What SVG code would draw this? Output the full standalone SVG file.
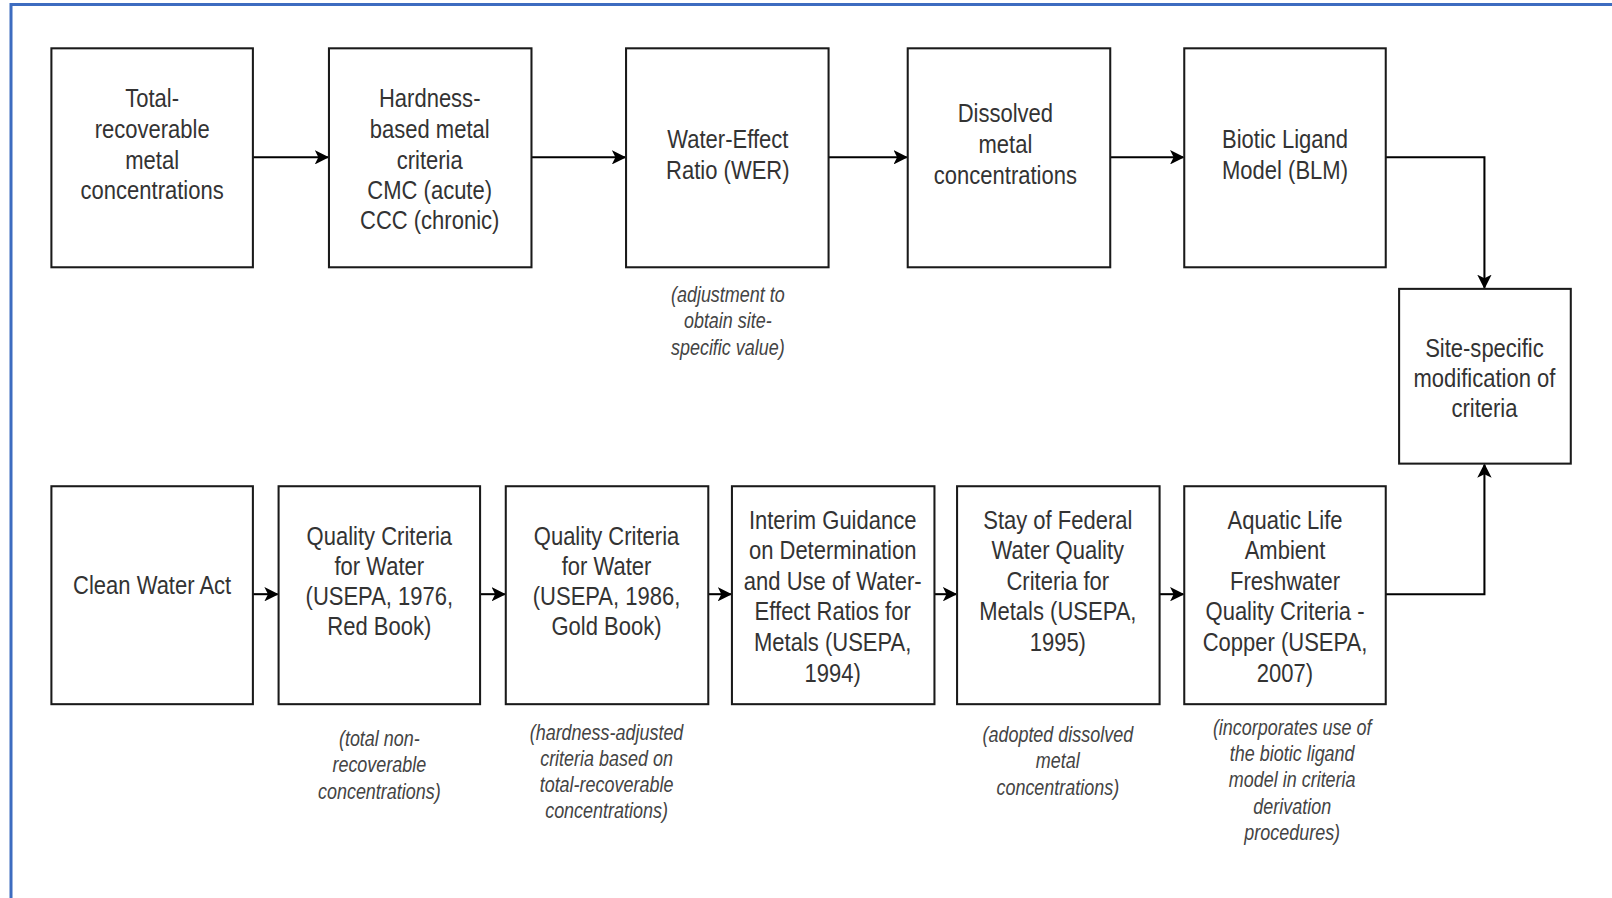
<svg xmlns="http://www.w3.org/2000/svg" width="1612" height="898" viewBox="0 0 1612 898">
<defs>
<style>
.box{fill:#fff;stroke:#1a1a1a;stroke-width:2}
.t{font-family:"Liberation Sans",Arial,sans-serif;font-size:25.5px;fill:#333;text-anchor:middle}
.i{font-family:"Liberation Sans",Arial,sans-serif;font-size:20.8px;font-style:italic;fill:#444;text-anchor:middle}
.c{fill:none;stroke:#000;stroke-width:2}
.frame{stroke:#3d6cc0;stroke-width:3;fill:none}
</style>
<marker id="ah" viewBox="0 0 12 12" refX="11" refY="6" markerWidth="14" markerHeight="14" markerUnits="userSpaceOnUse" orient="auto">
<path d="M0,0 L12,6 L0,12 L3,6 Z" fill="#000"/>
</marker>
</defs>
<rect width="1612" height="898" fill="#fff"/>
<path class="frame" d="M11,898 V4.5 H1612"/>

<g transform="scale(1.028)">
<g id="connectors">
<path class="c" d="M246,153 H319" marker-end="url(#ah)"/>
<path class="c" d="M517,153 H608" marker-end="url(#ah)"/>
<path class="c" d="M806,153 H882" marker-end="url(#ah)"/>
<path class="c" d="M1080,153 H1151" marker-end="url(#ah)"/>
<path class="c" d="M1348,153 H1444 V280" marker-end="url(#ah)"/>
<path class="c" d="M246,578 H270" marker-end="url(#ah)"/>
<path class="c" d="M467,578 H491" marker-end="url(#ah)"/>
<path class="c" d="M689,578 H711" marker-end="url(#ah)"/>
<path class="c" d="M909,578 H930" marker-end="url(#ah)"/>
<path class="c" d="M1128,578 H1151" marker-end="url(#ah)"/>
<path class="c" d="M1348,578 H1444 V452" marker-end="url(#ah)"/>
</g>

<g id="n1"><rect class="box" x="50" y="47" width="196" height="213"/>
<g transform="translate(148,0) scale(0.84,1)"><text class="t" x="0" y="104">Total-</text><text class="t" x="0" y="134">recoverable</text><text class="t" x="0" y="164">metal</text><text class="t" x="0" y="194">concentrations</text></g></g>

<g id="n2"><rect class="box" x="320" y="47" width="197" height="213"/>
<g transform="translate(418,0) scale(0.84,1)"><text class="t" x="0" y="104">Hardness-</text><text class="t" x="0" y="134">based metal</text><text class="t" x="0" y="164">criteria</text><text class="t" x="0" y="194">CMC (acute)</text><text class="t" x="0" y="223">CCC (chronic)</text></g></g>

<g id="n3"><rect class="box" x="609" y="47" width="197" height="213"/>
<g transform="translate(708,0) scale(0.84,1)"><text class="t" x="0" y="144">Water-Effect</text><text class="t" x="0" y="174">Ratio (WER)</text>
<text class="i" x="0" y="294">(adjustment to</text><text class="i" x="0" y="319">obtain site-</text><text class="i" x="0" y="345">specific value)</text></g></g>

<g id="n4"><rect class="box" x="883" y="47" width="197" height="213"/>
<g transform="translate(978,0) scale(0.84,1)"><text class="t" x="0" y="119">Dissolved</text><text class="t" x="0" y="149">metal</text><text class="t" x="0" y="179">concentrations</text></g></g>

<g id="n5"><rect class="box" x="1152" y="47" width="196" height="213"/>
<g transform="translate(1250,0) scale(0.84,1)"><text class="t" x="0" y="144">Biotic Ligand</text><text class="t" x="0" y="174">Model (BLM)</text></g></g>

<g id="n6"><rect class="box" x="1361" y="281" width="167" height="170"/>
<g transform="translate(1444,0) scale(0.84,1)"><text class="t" x="0" y="347">Site-specific</text><text class="t" x="0" y="376">modification of</text><text class="t" x="0" y="406">criteria</text></g></g>

<g id="b1"><rect class="box" x="50" y="473" width="196" height="212"/>
<g transform="translate(148,0) scale(0.84,1)"><text class="t" x="0" y="578">Clean Water Act</text></g></g>

<g id="b2"><rect class="box" x="271" y="473" width="196" height="212"/>
<g transform="translate(369,0) scale(0.84,1)"><text class="t" x="0" y="530">Quality Criteria</text><text class="t" x="0" y="559">for Water</text><text class="t" x="0" y="589">(USEPA, 1976,</text><text class="t" x="0" y="618">Red Book)</text>
<text class="i" x="0" y="726">(total non-</text><text class="i" x="0" y="751">recoverable</text><text class="i" x="0" y="777">concentrations)</text></g></g>

<g id="b3"><rect class="box" x="492" y="473" width="197" height="212"/>
<g transform="translate(590,0) scale(0.84,1)"><text class="t" x="0" y="530">Quality Criteria</text><text class="t" x="0" y="559">for Water</text><text class="t" x="0" y="589">(USEPA, 1986,</text><text class="t" x="0" y="618">Gold Book)</text>
<text class="i" x="0" y="720">(hardness-adjusted</text><text class="i" x="0" y="745">criteria based on</text><text class="i" x="0" y="770">total-recoverable</text><text class="i" x="0" y="796">concentrations)</text></g></g>

<g id="b4"><rect class="box" x="712" y="473" width="197" height="212"/>
<g transform="translate(810,0) scale(0.84,1)"><text class="t" x="0" y="515">Interim Guidance</text><text class="t" x="0" y="544">on Determination</text><text class="t" x="0" y="574">and Use of Water-</text><text class="t" x="0" y="603">Effect Ratios for</text><text class="t" x="0" y="633">Metals (USEPA,</text><text class="t" x="0" y="663">1994)</text></g></g>

<g id="b5"><rect class="box" x="931" y="473" width="197" height="212"/>
<g transform="translate(1029,0) scale(0.84,1)"><text class="t" x="0" y="515">Stay of Federal</text><text class="t" x="0" y="544">Water Quality</text><text class="t" x="0" y="574">Criteria for</text><text class="t" x="0" y="603">Metals (USEPA,</text><text class="t" x="0" y="633">1995)</text>
<text class="i" x="0" y="722">(adopted dissolved</text><text class="i" x="0" y="747">metal</text><text class="i" x="0" y="773">concentrations)</text></g></g>

<g id="b6"><rect class="box" x="1152" y="473" width="196" height="212"/>
<g transform="translate(1250,0) scale(0.84,1)"><text class="t" x="0" y="515">Aquatic Life</text><text class="t" x="0" y="544">Ambient</text><text class="t" x="0" y="574">Freshwater</text><text class="t" x="0" y="603">Quality Criteria -</text><text class="t" x="0" y="633">Copper (USEPA,</text><text class="t" x="0" y="663">2007)</text></g>
<g transform="translate(1257,0) scale(0.84,1)"><text class="i" x="0" y="715">(incorporates use of</text><text class="i" x="0" y="740">the biotic ligand</text><text class="i" x="0" y="766">model in criteria</text><text class="i" x="0" y="792">derivation</text><text class="i" x="0" y="817">procedures)</text></g></g>
</g>
</svg>
